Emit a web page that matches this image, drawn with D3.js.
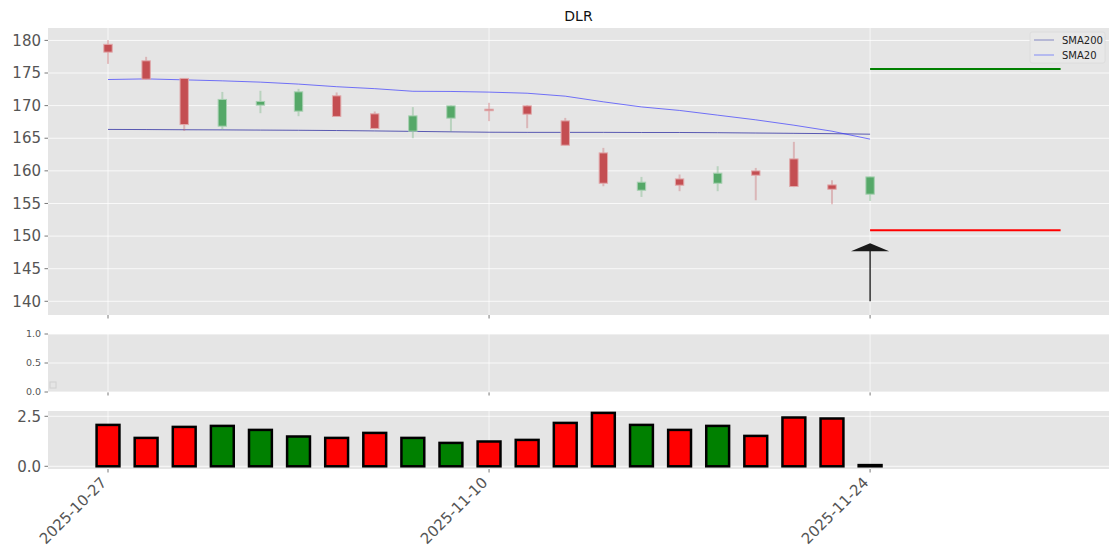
<!DOCTYPE html>
<html>
<head>
<meta charset="utf-8">
<script src="https://cdn.jsdelivr.net/npm/d3@7"></script>
<style>
  body { margin: 0; background: #fff; }
  text { font-family: "DejaVu Sans", sans-serif; }
</style>
</head>
<body>
<div id="chart"></div>
<script>
// DLR daily candles, 2025-10-27 .. 2025-11-24
var dates = ["2025-10-27","2025-10-28","2025-10-29","2025-10-30","2025-10-31",
  "2025-11-03","2025-11-04","2025-11-05","2025-11-06","2025-11-07",
  "2025-11-10","2025-11-11","2025-11-12","2025-11-13","2025-11-14",
  "2025-11-17","2025-11-18","2025-11-19","2025-11-20","2025-11-21","2025-11-24"];
var open  = [179.4, 176.87, 174.17, 166.85, 170.07, 169.15, 171.5, 168.74, 166.08, 168.08, 169.45,
  169.96, 167.66, 162.75, 157.03, 158.76, 158.1, 159.99, 161.83, 157.84, 156.42];
var high  = [180.05, 177.48, 174.2, 172.1, 172.27, 172.57, 172.02, 169.1, 169.77, 170.05, 170.43,
  170.1, 168.12, 163.52, 159.07, 159.44, 160.71, 160.45, 164.44, 158.56, 159.1];
var low   = [176.4, 174.0, 166.13, 166.34, 168.84, 168.38, 168.3, 166.4, 165.0, 166.04, 167.62,
  166.54, 163.9, 157.64, 156.0, 156.88, 156.88, 155.49, 157.5, 154.88, 155.39];
var close = [178.2, 174.06, 167.1, 170.95, 170.64, 172.11, 168.34, 166.5, 168.43, 169.96, 169.35,
  168.69, 163.93, 158.1, 158.26, 157.8, 159.64, 159.33, 157.6, 157.18, 159.07];
var sma20  = [174.0, 174.1, 173.95, 173.8, 173.6, 173.3, 172.9, 172.6, 172.2, 172.17, 172.07,
  171.9, 171.45, 170.58, 169.8, 169.26, 168.54, 167.82, 167.0, 166.08, 164.86];
var sma200 = [166.35, 166.33, 166.3, 166.28, 166.25, 166.22, 166.18, 166.12, 166.05, 165.98, 165.92,
  165.9, 165.9, 165.9, 165.88, 165.88, 165.85, 165.8, 165.75, 165.7, 165.62];
var volume = [2.07, 1.42, 1.97, 2.02, 1.82, 1.49, 1.42, 1.67, 1.42, 1.17, 1.24,
  1.32, 2.17, 2.67, 2.07, 1.82, 2.02, 1.52, 2.44, 2.39, 0.06];
var tickIdx = [0, 10, 20];
var priceTicks = [140, 145, 150, 155, 160, 165, 170, 175, 180];
var targetPrice = 175.6, stopPrice = 150.9;
var signalIdx = 20, levelEnd = 25, arrowBase = 140, arrowTip = 148.9;

var width = 1120, height = 560;
var left = 48, right = 1109;
var red = "#c44e52", green = "#55a868";

var svg = d3.select("#chart").append("svg")
    .attr("width", width)
    .attr("height", height);

var x = d3.scaleLinear().domain([-1.575, 26.27]).range([left, right]);
var y = d3.scaleLinear().domain([137.9, 181.9]).range([315, 28]);
var yMid = d3.scaleLinear().domain([0, 1]).range([392, 334]);
var yVol = d3.scaleLinear().domain([-0.135, 2.765]).range([469, 411]);

function panel(top, bottom) {
  svg.append("rect")
    .attr("x", left).attr("y", top)
    .attr("width", right - left).attr("height", bottom - top)
    .attr("fill", "#e5e5e5");
  // vertical grid + bottom ticks
  tickIdx.forEach(function(i) {
    svg.append("line")
      .attr("x1", x(i)).attr("x2", x(i)).attr("y1", top).attr("y2", bottom)
      .attr("stroke", "#fff").attr("stroke-width", 1).attr("opacity", 0.7);
    svg.append("line")
      .attr("x1", x(i)).attr("x2", x(i)).attr("y1", bottom).attr("y2", bottom + 3.5)
      .attr("stroke", "#555").attr("stroke-width", 0.8);
  });
}

function yTicks(scale, values, fmt, size) {
  values.forEach(function(v) {
    svg.append("line")
      .attr("x1", left).attr("x2", right).attr("y1", scale(v)).attr("y2", scale(v))
      .attr("stroke", "#fff").attr("stroke-width", 1).attr("opacity", 0.8);
    svg.append("line")
      .attr("x1", left - 3.5).attr("x2", left).attr("y1", scale(v)).attr("y2", scale(v))
      .attr("stroke", "#555").attr("stroke-width", 0.8);
    svg.append("text")
      .attr("x", left - 7).attr("y", scale(v)).attr("dy", "0.35em")
      .attr("text-anchor", "end")
      .attr("font-size", size)
      .attr("fill", "#555")
      .text(fmt(v));
  });
}

// main price panel
panel(28, 315);
yTicks(y, priceTicks, d3.format("d"), "15px");

svg.append("text")
  .attr("x", (left + right) / 2).attr("y", 21)
  .attr("text-anchor", "middle")
  .attr("font-size", "14px")
  .attr("fill", "#111")
  .text("DLR");

var idx = d3.range(dates.length);

// moving averages
var line200 = d3.line().x(function(i) { return x(i); }).y(function(i) { return y(sma200[i]); });
var line20 = d3.line().x(function(i) { return x(i); }).y(function(i) { return y(sma20[i]); });
svg.append("path").attr("d", line200(idx))
  .attr("fill", "none").attr("stroke", "#2a2aa0").attr("stroke-width", 1).attr("opacity", 0.75);
svg.append("path").attr("d", line20(idx))
  .attr("fill", "none").attr("stroke", "#3030ff").attr("stroke-width", 1).attr("opacity", 0.65);

// candles
var bw = 0.22;
var candles = svg.append("g").selectAll("g")
  .data(idx)
  .enter().append("g");

candles.append("line")
  .attr("x1", function(i) { return x(i); })
  .attr("x2", function(i) { return x(i); })
  .attr("y1", function(i) { return y(high[i]); })
  .attr("y2", function(i) { return y(low[i]); })
  .attr("stroke", function(i) { return close[i] >= open[i] ? green : red; })
  .attr("stroke-width", 2)
  .attr("opacity", 0.3);

candles.append("rect")
  .attr("x", function(i) { return x(i - bw / 2); })
  .attr("width", x(bw) - x(0))
  .attr("y", function(i) { return y(Math.max(open[i], close[i])); })
  .attr("height", function(i) { return Math.max(1.5, Math.abs(y(open[i]) - y(close[i]))); })
  .attr("fill", function(i) { return close[i] >= open[i] ? green : red; })
  .attr("stroke", function(i) { return close[i] >= open[i] ? "#a8d0b2" : "#e0a8aa"; })
  .attr("stroke-width", 1);

// target / stop levels
svg.append("line")
  .attr("x1", x(signalIdx)).attr("x2", x(levelEnd))
  .attr("y1", y(targetPrice)).attr("y2", y(targetPrice))
  .attr("stroke", "#008000").attr("stroke-width", 2);
svg.append("line")
  .attr("x1", x(signalIdx)).attr("x2", x(levelEnd))
  .attr("y1", y(stopPrice)).attr("y2", y(stopPrice))
  .attr("stroke", "#ff0000").attr("stroke-width", 2);

// buy arrow
svg.append("line")
  .attr("x1", x(signalIdx)).attr("x2", x(signalIdx))
  .attr("y1", y(arrowBase)).attr("y2", y(arrowTip) + 6)
  .attr("stroke", "#111").attr("stroke-width", 1.3);
svg.append("path")
  .attr("d", "M" + x(signalIdx) + "," + y(arrowTip)
    + "L" + x(signalIdx + 0.5) + "," + (y(arrowTip) + 8)
    + "L" + x(signalIdx - 0.5) + "," + (y(arrowTip) + 8) + "Z")
  .attr("fill", "#1a1a1a");

// legend
var lg = svg.append("g").attr("transform", "translate(1030,32)");
lg.append("rect").attr("width", 75).attr("height", 31).attr("rx", 2)
  .attr("fill", "#e8e8e8").attr("stroke", "#dadada").attr("stroke-width", 0.8);
[["SMA200", "#a9abd0"], ["SMA20", "#a8aef0"]].forEach(function(d, k) {
  lg.append("line").attr("x1", 4).attr("x2", 24)
    .attr("y1", 8 + k * 15).attr("y2", 8 + k * 15)
    .attr("stroke", d[1]).attr("stroke-width", 1.6);
  lg.append("text").attr("x", 32).attr("y", 8 + k * 15).attr("dy", "0.35em")
    .attr("font-size", "10px").attr("fill", "#222").text(d[0]);
});

// empty middle panel
panel(334, 392);
yTicks(yMid, [0, 0.5, 1], d3.format(".1f"), "9.5px");
svg.append("rect").attr("x", 50).attr("y", 382).attr("width", 6).attr("height", 6)
  .attr("fill", "none").attr("stroke", "#d0d0d0").attr("stroke-width", 1);

// volume panel
panel(411, 469);
yTicks(yVol, [0, 2.5], d3.format(".1f"), "15px");

var vw = 0.6;
svg.append("g").selectAll("rect")
  .data(idx)
  .enter().append("rect")
  .attr("x", function(i) { return x(i - vw / 2); })
  .attr("width", x(vw) - x(0))
  .attr("y", function(i) { return yVol(volume[i]); })
  .attr("height", function(i) { return yVol(0) - yVol(volume[i]); })
  .attr("fill", function(i) { return close[i] >= open[i] ? "#008000" : "#ff0000"; })
  .attr("stroke", "#000")
  .attr("stroke-width", 2.5);

// rotated date labels
tickIdx.forEach(function(i) {
  svg.append("text")
    .attr("transform", "translate(" + (x(i) - 8) + "," + 476 + ") rotate(-45)")
    .attr("text-anchor", "end")
    .attr("dy", "0.7em")
    .attr("font-size", "15px")
    .attr("fill", "#555")
    .text(dates[i]);
});
</script>
</body>
</html>
